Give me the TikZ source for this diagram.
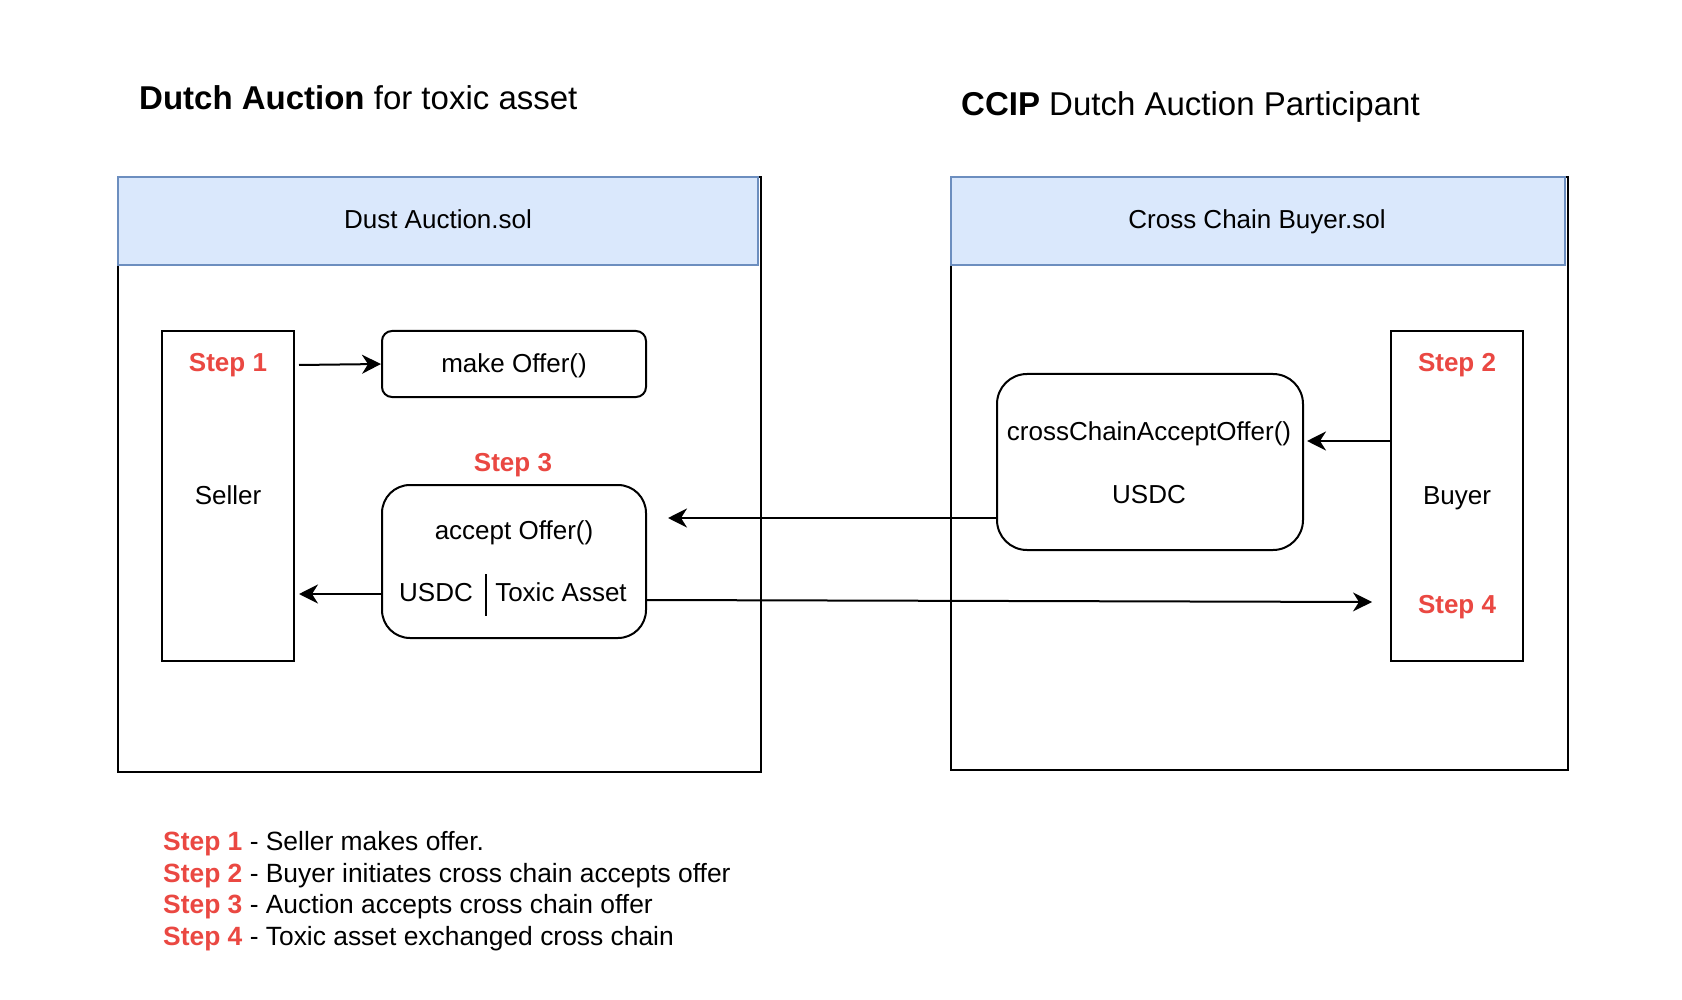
\documentclass[tikz,border=0pt]{standalone}
\usepackage{fontspec}
\setmainfont{Liberation Sans}
\usetikzlibrary{arrows.meta,calc}
\definecolor{stepred}{RGB}{234,72,66}
\definecolor{hdrfill}{HTML}{DAE8FC}
\definecolor{hdrline}{HTML}{6C8EBF}
\tikzset{
  body/.style={font=\fontsize{26}{31}\selectfont, inner sep=0pt, anchor=base},
  steplbl/.style={font=\fontsize{26}{31}\selectfont\bfseries, text=stepred, inner sep=0pt, anchor=base},
  ttl/.style={font=\fontsize{33}{40}\selectfont, inner sep=0pt, anchor=base west},
  legend/.style={font=\fontsize{26.4}{32}\selectfont, inner sep=0pt, anchor=base west},
  container/.style={draw=black, line width=2pt, fill=white},
  hdr/.style={draw=hdrline, fill=hdrfill, line width=2pt},
  actor/.style={draw=black, line width=2pt, minimum width=132pt, minimum height=330pt, inner sep=0pt},
  fnbox/.style={draw=black, line width=2pt, inner sep=0pt},
  arr/.style={draw=black, line width=2pt, -{Stealth[length=19pt,width=19pt,inset=6pt]}},
}
\begin{document}
\begin{tikzpicture}[x=1pt,y=-1pt]
\useasboundingbox (0,0) rectangle (1682,1000);
% titles
\node[ttl] (t1) at (139,110) {\textbf{Dutch Auction} for toxic asset};
\node[ttl] (t2) at (961,116) {\textbf{CCIP} Dutch Auction Participant};
% containers
\draw[container] (118,177) rectangle (761,772);
\draw[hdr] (118,177) rectangle (758,265);
\node[body] (h1) at (438,229) {Dust Auction.sol};
\draw[container] (951,177) rectangle (1568,770);
\draw[hdr] (951,177) rectangle (1565,265);
\node[body] (h2) at (1257,229) {Cross Chain Buyer.sol};
% seller
\node[actor] (seller) at (228,496) {};
\node[steplbl] (s1) at (228,372) {Step 1};
\node[body] (sellerlbl) at (228,504) {Seller};
% make offer
\node[fnbox, rounded corners=10pt, minimum width=264pt, minimum height=66pt] (mo) at (514,364) {};
\node[body] (molbl) at (514,373) {make Offer()};
% step 3 + accept
\node[steplbl] (s3) at (513,471) {Step 3};
\node[fnbox, rounded corners=28pt, minimum width=264pt, minimum height=153pt] (acc) at (514,561.5) {};
\node[body] (acclbl) at (514,539) {accept Offer()};
\node[body] (accusdc) at (436,601) {USDC};
\node[body] (acctox) at (561,601) {Toxic Asset};
\coordinate (divt) at (486,574);
\coordinate (divb) at (486,616);
\draw[line width=2pt] (divt) -- (divb);
% cross chain
\node[fnbox, rounded corners=30pt, minimum width=306pt, minimum height=176pt] (cross) at (1150,462) {};
\node[body] (crosslbl) at (1149,440) {crossChainAcceptOffer()};
\node[body] (crossusdc) at (1149,503) {USDC};
% buyer
\node[actor] (buyer) at (1457,496) {};
\node[steplbl] (s2) at (1457,372) {Step 2};
\node[body] (buyerlbl) at (1457,504) {Buyer};
\node[steplbl] (s4) at (1457,613) {Step 4};
% arrows
\coordinate (a1s) at ($(seller.north east)+(4,35)$);
\draw[arr] (a1s) -- (mo.west);
\coordinate (a2s) at (buyer.west |- 0,441);
\coordinate (a2e) at ($(cross.east |- 0,441)+(3,0)$);
\draw[arr] (a2s) -- (a2e);
\coordinate (a3s) at (cross.west |- 0,518);
\coordinate (a3e) at ($(acc.east |- 0,518)+(21,0)$);
\draw[arr] (a3s) -- (a3e);
\coordinate (a4s) at (acc.west |- 0,594);
\coordinate (a4e) at ($(seller.east |- 0,594)+(4,0)$);
\draw[arr] (a4s) -- (a4e);
\coordinate (a5s) at (acc.east |- 0,600);
\coordinate (a5e) at (1372,602);
\draw[arr] (a5s) -- (a5e);
% legend
\node[legend] (l1) at (163,850) {\textcolor{stepred}{\textbf{Step 1}} - Seller makes offer.};
\node[legend] (l2) at (163,882) {\textcolor{stepred}{\textbf{Step 2}} - Buyer initiates cross chain accepts offer};
\node[legend] (l3) at (163,913) {\textcolor{stepred}{\textbf{Step 3}} - Auction accepts cross chain offer};
\node[legend] (l4) at (163,945) {\textcolor{stepred}{\textbf{Step 4}} - Toxic asset exchanged cross chain};
\end{tikzpicture}
\end{document}
